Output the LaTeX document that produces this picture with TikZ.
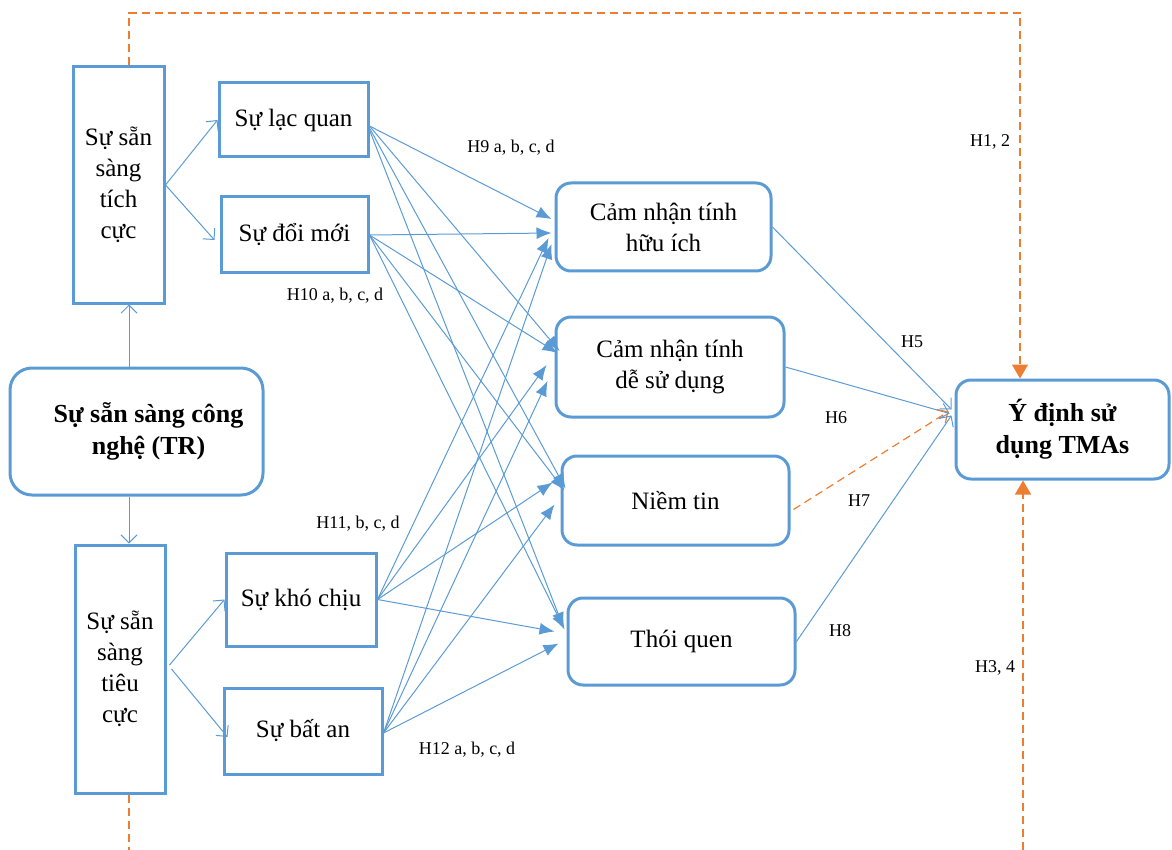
\documentclass[tikz,border=0pt]{standalone}
\usepackage{fontspec}
\setmainfont{Liberation Serif}
\usepackage{xcolor}
\usepackage{tikz}
\usetikzlibrary{arrows.meta}
\definecolor{tmaBlue}{HTML}{5B9BD5}
\definecolor{tmaOrange}{HTML}{ED7D31}
\newcommand{\boxFont}{\fontsize{12.5}{15.5}\selectfont}
\newcommand{\headFont}{\fontsize{13}{16}\selectfont\bfseries}
\newcommand{\hypFont}{\fontsize{9}{11}\selectfont}
% source/shift  target/xshift/yshift
\newcommand{\innerLinks}{lac/-3/huuich/-1.5/4, doi/0/huuich/-1.5/-3, kho/0/huuich/-3/-5.5, batan/-1/huuich/-1.5/-8.5,
	lac/-3/desd/2.5/8, doi/0/desd/1.5/7, kho/0/desd/-4/1, batan/-1/desd/-3.5/-7,
	lac/-4/niemtin/2.5/6, doi/0/niemtin/2/5, kho/0/niemtin/-4/9, batan/-1/niemtin/-3/-2,
	lac/-5/thoiquen/-1.5/7, doi/0/thoiquen/-1/6, kho/0/thoiquen/-6/5, batan/-1/thoiquen/-4/-1}
\tikzset{
	box/.style={draw=tmaBlue, line width=1.5pt, align=center, inner sep=2pt, font=\boxFont},
	roundbox/.style={box, rounded corners=7.5pt},
	hyp/.style={inner sep=0pt, font=\hypFont},
	link/.style={draw=tmaBlue, line width=0.5pt, -{Latex[length=7.5pt,width=6pt]}},
	openlink/.style={draw=tmaBlue, line width=0.5pt, -{Straight Barb[length=4pt,width=8pt]}},
	orangelink/.style={draw=tmaOrange, line width=0.6pt, dash pattern=on 4pt off 2.5pt},
}
\begin{document}
\begin{tikzpicture}[x=0.5pt, y=-0.5pt]
	\useasboundingbox (0,0) rectangle (1172,850);
	
	\node[roundbox, rounded corners=11pt, minimum width=126.5pt, minimum height=63.5pt, font=\headFont] (TR) at (136.5,431.5) {\hspace*{12pt}Sự sẵn sàng công\\\hspace*{12pt}nghệ (TR)};
	\node[box, minimum width=45.5pt, minimum height=118pt] (pos) at (118.5,185) {Sự sẵn\\sàng\\tích\\cực};
	\node[box, minimum width=45pt, minimum height=124pt] (neg) at (120,669) {Sự sẵn\\sàng\\tiêu\\cực};
	
	\node[box, minimum width=74.5pt, minimum height=37pt] (lac) at (293.5,120) {Sự lạc quan};
	\node[box, minimum width=73.5pt, minimum height=38pt] (doi) at (294.5,235) {Sự đổi mới};
	\node[box, minimum width=75pt, minimum height=46.5pt] (kho) at (301,599.5) {Sự khó chịu};
	\node[box, minimum width=79pt, minimum height=43pt] (batan) at (303,731) {Sự bất an};
	
	\node[roundbox, minimum width=107.5pt, minimum height=44pt] (huuich) at (663.5,227) {Cảm nhận tính\\hữu ích};
	\node[roundbox, minimum width=114pt, minimum height=50pt] (desd) at (670,367) {Cảm nhận tính\\dễ sử dụng};
	\node[roundbox, minimum width=113.5pt, minimum height=44.5pt] (niemtin) at (675.5,500.5) {Niềm tin};
	\node[roundbox, minimum width=113.5pt, minimum height=43.5pt] (thoiquen) at (681.5,641.5) {Thói quen};
	\node[roundbox, minimum width=106.5pt, minimum height=49.5pt, font=\headFont] (ydinh) at (1062.5,429.5) {Ý định sử\\dụng TMAs};
	
	% TR -> dimensions
	\draw[openlink] ([xshift=-3.75pt]TR.north) -- ([xshift=5.25pt]pos.south);
	\draw[openlink] ([xshift=-3.75pt]TR.south) -- ([xshift=4.5pt]neg.north);
	\draw[openlink] (pos.east) -- (lac.west);
	\draw[openlink] (pos.east) -- ([xshift=-2.5pt,yshift=-2.5pt]doi.west);
	\draw[openlink] ([xshift=1.5pt,yshift=2pt]neg.east) -- (kho.west);
	\draw[openlink] ([xshift=2.5pt]neg.east) -- ([xshift=2.5pt,yshift=-3pt]batan.west);
	
	\foreach \src/\sy/\dst/\dx/\dy in \innerLinks
	{
		\draw[link] ([yshift=\sy pt]\src.east) -- ([xshift=\dx pt,yshift=\dy pt]\dst.west);
	}
	
	\draw[openlink] (huuich.east) -- ([xshift=-1.5pt,yshift=10pt]ydinh.west);
	\draw[openlink] (desd.east) -- ([xshift=-2.5pt,yshift=8pt]ydinh.west);
	\draw[orangelink, -{Straight Barb[length=4pt,width=8pt]}] ([xshift=1.5pt,yshift=-4.5pt]niemtin.east) -- ([xshift=-3pt,yshift=9pt]ydinh.west);
	\draw[openlink] (thoiquen.east) -- ([xshift=-1.5pt,yshift=7pt]ydinh.west);
	
	% direct effects
	\coordinate (topTurn) at (1020,13);
	\coordinate (negEnd) at (129,850);
	\coordinate (botStart) at (1023,850);
	\draw[orangelink, -{Triangle[length=7pt,width=8pt]}] ([xshift=5.25pt]pos.north) |- (topTurn) -- ([xshift=-21.25pt]ydinh.north);
	\draw[orangelink] ([xshift=4.5pt]neg.south) -- (negEnd);
	\draw[orangelink, -{Triangle[length=7pt,width=8pt]}] (botStart) -- ([xshift=-19.75pt]ydinh.south);
	
	\node[hyp] (h9) at (511,148) {H9 a, b, c, d};
	\node[hyp] (h10) at (335,296) {H10 a, b, c, d};
	\node[hyp] (h11) at (358,524) {H11, b, c, d};
	\node[hyp] (h12) at (467,750) {H12 a, b, c, d};
	\node[hyp] (h5) at (912,342) {H5};
	\node[hyp] (h6) at (836,418) {H6};
	\node[hyp] (h7) at (859,501) {H7};
	\node[hyp] (h8) at (840,631) {H8};
	\node[hyp] (h12b) at (990,142) {H1, 2};
	\node[hyp] (h34) at (995,668) {H3, 4};
\end{tikzpicture}
\end{document}
